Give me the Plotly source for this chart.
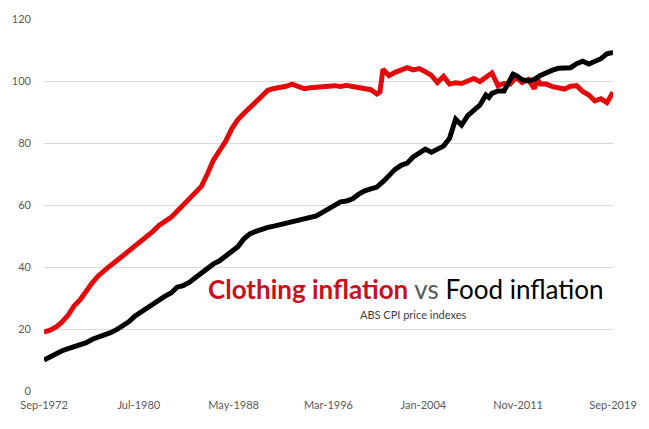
import plotly.graph_objects as go

clothing_dates = ["1972-09","1973-03","1973-09","1974-03","1974-09","1975-03","1975-09","1976-03","1976-09","1977-03",
"1977-09","1978-03","1978-09","1979-03","1979-09","1980-03","1980-09","1981-03","1981-09","1982-03",
"1982-09","1983-03","1983-09","1984-03","1984-09","1985-03","1985-09","1986-03","1986-09","1987-03",
"1987-09","1988-03","1988-09","1989-03","1989-09","1990-03","1990-09","1991-03","1991-09","1992-03",
"1992-09","1993-03","1993-09","1994-03","1994-09","1995-03","1995-09","1996-03","1996-09","1997-03",
"1997-09","1998-03","1998-09","1999-03","1999-09","2000-03","2000-06","2000-09","2001-03","2001-09",
"2002-03","2002-09","2003-03","2003-09","2004-03","2004-09","2005-03","2005-09","2006-03","2006-09",
"2007-03","2007-09","2008-03","2008-09","2009-03","2009-09","2010-03","2010-09","2011-03","2011-09",
"2012-03","2012-09","2013-03","2013-06","2013-09","2014-03","2014-09","2015-03","2015-09","2016-03",
"2016-09","2017-03","2017-09","2018-03","2018-09","2019-03","2019-09"]
clothing_values = [19.0,19.6,20.7,22.3,24.5,27.5,29.5,32.5,35.0,37.2,
39.0,40.5,42.0,43.5,45.5,46.8,48.5,49.6,51.5,53.4,
54.8,56.0,58.0,60.0,62.0,64.2,66.0,70.0,74.5,77.5,
80.5,84.5,87.5,89.5,91.5,93.5,95.5,97.0,97.6,97.8,
98.3,99.0,98.3,97.5,97.8,98.0,97.9,98.3,98.5,98.2,
98.6,98.2,98.0,97.7,97.2,95.8,96.5,103.8,101.7,102.8,
103.5,104.3,103.6,104.0,103.0,101.8,99.5,101.5,99.0,99.4,
99.2,100.2,100.8,99.8,101.0,102.6,98.5,99.2,99.0,101.2,
99.5,100.5,97.5,100.6,99.0,99.0,98.2,97.8,97.4,98.3,
98.5,96.6,95.5,93.6,94.3,93.0,96.4]

food_dates = ["1972-09","1973-03","1973-09","1974-03","1974-09","1975-03","1975-09","1976-03","1976-09","1977-03",
"1977-09","1978-03","1978-09","1979-03","1979-09","1980-03","1980-09","1981-03","1981-09","1982-03",
"1982-09","1983-03","1983-09","1984-03","1984-09","1985-03","1985-09","1986-03","1986-09","1987-03",
"1987-09","1988-03","1988-09","1989-03","1989-09","1990-03","1990-09","1991-03","1991-09","1992-03",
"1992-09","1993-03","1993-09","1994-03","1994-09","1995-03","1995-09","1996-03","1996-09","1997-03",
"1997-09","1998-03","1998-09","1999-03","1999-09","2000-03","2000-09","2001-03","2001-09","2002-03",
"2002-09","2003-03","2003-09","2004-03","2004-09","2005-03","2005-09","2006-03","2006-09","2007-03",
"2007-09","2008-03","2008-09","2009-03","2009-06","2009-09","2010-03","2010-09","2011-03","2011-06",
"2011-09","2012-03","2012-09","2013-03","2013-09","2014-03","2014-09","2015-03","2015-09","2016-03",
"2016-09","2017-03","2017-09","2018-03","2018-09","2019-03","2019-09"]
food_values = [10.0,11.0,12.2,13.0,13.7,14.2,14.8,15.6,16.7,17.3,
18.2,18.8,19.8,20.9,22.3,24.1,25.5,26.8,28.3,29.4,
30.6,31.6,33.5,34.0,35.0,36.5,38.0,39.7,41.0,42.0,
43.5,45.0,46.5,49.0,50.7,51.5,52.3,52.8,53.2,53.7,
54.0,54.7,55.0,55.3,55.8,56.5,57.6,58.8,60.0,61.0,
61.3,62.0,63.5,64.6,65.2,65.8,67.5,69.5,71.5,72.8,
73.5,75.5,76.8,78.0,77.0,78.2,79.0,81.5,87.7,85.8,
88.8,90.5,92.2,95.5,94.7,96.0,96.8,96.8,100.0,102.2,
101.8,100.4,100.0,100.5,101.8,102.8,103.5,104.1,104.0,104.3,
105.6,106.4,105.5,106.3,107.2,108.8,109.2]

tick_dates = ["1972-09-01","1980-07-01","1988-05-01","1996-03-01","2004-01-01","2011-11-01","2019-09-01"]
y_ticks = [0, 20, 40, 60, 80, 100, 120]

fig = go.Figure()
fig.add_trace(go.Scatter(x=clothing_dates, y=clothing_values, mode="lines",
                         line=dict(color="#e20a0a", width=5), name="Clothing"))
fig.add_trace(go.Scatter(x=food_dates, y=food_values, mode="lines",
                         line=dict(color="#000000", width=5), name="Food"))

fig.update_layout(
    width=649, height=429,
    margin=dict(l=32, r=29, t=18, b=38),
    paper_bgcolor="white", plot_bgcolor="white",
    showlegend=False,
    font=dict(family="Lato, sans-serif", size=11, color="#595959"),
    xaxis=dict(type="date", range=["1972-09-01", "2019-09-01"],
               tickvals=tick_dates, tickformat="%b-%Y",
               showgrid=False, zeroline=False, showline=False, ticks="",
               ticklabelstandoff=6),
    yaxis=dict(range=[0, 120], tickvals=y_ticks, showgrid=True,
               gridcolor="#d9d9d9", gridwidth=1, zeroline=False,
               showline=False, ticks="", ticklabelstandoff=12),
    annotations=[
        dict(xref="paper", yref="y", x=0.988, y=32.8, xanchor="right", yanchor="middle",
             showarrow=False,
             text="<b><span style='color:#c8101e'>Clothing inflation</span></b> "
                  "<span style='color:#595959'>vs</span> "
                  "<span style='color:#000000'>Food inflation</span>",
             font=dict(family="Lato, sans-serif", size=26, color="#000000")),
        dict(xref="paper", yref="y", x=0.648, y=24.6, xanchor="center", yanchor="middle",
             showarrow=False, text="ABS CPI price indexes",
             font=dict(family="Lato, sans-serif", size=11, color="#404040")),
    ],
)

fig.write_html("out.html", config={"displayModeBar": False},
               post_script="document.body.style.margin='0';")
